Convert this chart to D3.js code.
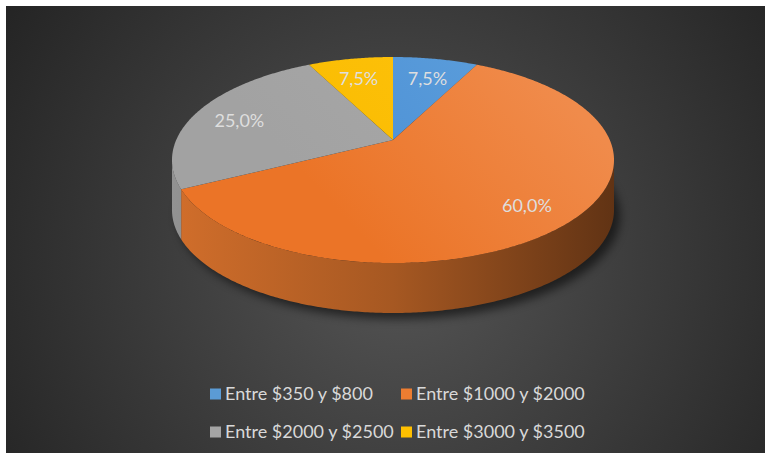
<!DOCTYPE html>
<html>
<head>
<meta charset="utf-8">
<script src="https://cdn.jsdelivr.net/npm/d3@7"></script>
<style>
  body { margin: 0; background: #fff; }
  svg { display: block; }
</style>
</head>
<body>
<svg width="765" height="455"></svg>
<script>
// data
var categories = ["Entre $350 y $800", "Entre $1000 y $2000", "Entre $2000 y $2500", "Entre $3000 y $3500"];
var values = [7.5, 60.0, 25.0, 7.5];
var labels = ["7,5%", "60,0%", "25,0%", "7,5%"];
var colors = ["#5B9BD5", "#ED7D31", "#A5A5A5", "#FFC000"];
var topLight = ["#5c9edb", "#f08b4b", "#a9a9a9", "#ffc30d"];
var topDark = ["#4b8fd5", "#eb7427", "#a2a2a2", "#f9bb00"];

var svg = d3.select("svg");
var W = 765, H = 455;

// pie geometry (tilted disc, slight perspective)
var cx = 393, cy = 160, rx = 221, ry = 103, depth = 50, lift = 20;
var b = ry, c = -lift, k = c / b;
var a = rx * Math.sqrt(b * b - c * c) / b;

// angle (0 = top, clockwise), radius fraction -> screen point
function proj(t, r, dy) {
  var u = r * Math.sin(t), v = -r * Math.cos(t);
  var w = 1 + k * v;
  return [cx + a * u / w, cy + (b * v + c) / w + (dy || 0)];
}
// front part of the rim that is visible
var vis0 = Math.acos(k), vis1 = 2 * Math.PI - Math.acos(k);

var defs = svg.append("defs");

var bg = defs.append("radialGradient").attr("id", "bg")
  .attr("gradientUnits", "userSpaceOnUse")
  .attr("cx", 400).attr("cy", 260).attr("r", 470);
bg.append("stop").attr("offset", "0%").attr("stop-color", "#555555");
bg.append("stop").attr("offset", "100%").attr("stop-color", "#242424");

defs.append("filter").attr("id", "blur")
  .attr("x", "-20%").attr("y", "-20%").attr("width", "140%").attr("height", "140%")
  .append("feGaussianBlur").attr("stdDeviation", 5);

svg.append("rect")
  .attr("x", 6).attr("y", 6)
  .attr("width", W - 6).attr("height", H - 8)
  .attr("fill", "url(#bg)");

var pie = d3.pie().sort(null).value(function(d) { return d; });
var arcs = pie(values);

// gradients for side and top faces
colors.forEach(function(col, i) {
  var sg = defs.append("linearGradient").attr("id", "side" + i)
    .attr("gradientUnits", "userSpaceOnUse")
    .attr("x1", cx - rx).attr("y1", 0).attr("x2", cx + rx).attr("y2", 0);
  var base = d3.color(col);
  sg.append("stop").attr("offset", "0%").attr("stop-color", base.darker(0.35));
  sg.append("stop").attr("offset", "50%").attr("stop-color", base.darker(1.0));
  sg.append("stop").attr("offset", "100%").attr("stop-color", base.darker(2.5));

  var tg = defs.append("linearGradient").attr("id", "top" + i)
    .attr("gradientUnits", "userSpaceOnUse")
    .attr("x1", cx + rx * 0.6).attr("y1", cy - ry)
    .attr("x2", cx - rx * 0.2).attr("y2", cy + ry * 0.6);
  tg.append("stop").attr("offset", "0%").attr("stop-color", topLight[i]);
  tg.append("stop").attr("offset", "100%").attr("stop-color", topDark[i]);
});

var line = d3.line();
function steps(s, e) {
  return d3.range(s, e, 0.01).concat([e]);
}

// shadow under the pie
var rim = steps(0, 2 * Math.PI).map(function(t) { return proj(t, 1, depth + 4); });
svg.append("path")
  .attr("d", line(rim) + "Z")
  .attr("transform", "translate(6,2)")
  .attr("fill", "#000")
  .attr("opacity", 0.55)
  .attr("filter", "url(#blur)");

// side faces
svg.append("g").selectAll("path")
  .data(arcs.filter(function(d) { return d.endAngle > vis0 && d.startAngle < vis1; }))
  .enter().append("path")
  .attr("d", function(d) {
    var s = Math.max(d.startAngle, vis0), e = Math.min(d.endAngle, vis1);
    var up = steps(s, e).map(function(t) { return proj(t, 1, 0); });
    var down = steps(s, e).reverse().map(function(t) { return proj(t, 1, depth); });
    return line(up.concat(down)) + "Z";
  })
  .attr("fill", function(d) { return "url(#side" + d.index + ")"; });

// top faces
svg.append("g").selectAll("path")
  .data(arcs)
  .enter().append("path")
  .attr("d", function(d) {
    var pts = [proj(0, 0, 0)].concat(steps(d.startAngle, d.endAngle).map(function(t) { return proj(t, 1, 0); }));
    return line(pts) + "Z";
  })
  .attr("fill", function(d) { return "url(#top" + d.index + ")"; });

// value labels
svg.append("g").selectAll("text")
  .data(arcs)
  .enter().append("text")
  .attr("x", function(d) { return proj((d.startAngle + d.endAngle) / 2, 0.78, 0)[0]; })
  .attr("y", function(d) { return proj((d.startAngle + d.endAngle) / 2, 0.78, 4)[1]; })
  .attr("dy", "0.35em")
  .attr("text-anchor", "middle")
  .attr("font-family", "Lato, 'Open Sans', sans-serif")
  .attr("font-size", "18px")
  .attr("fill", "#dedede")
  .text(function(d, i) { return labels[i]; });

// legend
var colX = [210, 401], rowY = [394, 432];
var leg = svg.append("g").selectAll("g")
  .data(categories)
  .enter().append("g")
  .attr("transform", function(d, i) {
    return "translate(" + colX[i % 2] + "," + rowY[Math.floor(i / 2)] + ")";
  });
leg.append("rect")
  .attr("x", 0).attr("y", -5.5)
  .attr("width", 11).attr("height", 11)
  .attr("fill", function(d, i) { return colors[i]; });
leg.append("text")
  .attr("x", 15).attr("y", 0)
  .attr("dy", "0.36em")
  .attr("font-family", "Lato, 'Open Sans', sans-serif")
  .attr("font-size", "18px")
  .attr("fill", "#d9d9d9")
  .text(function(d) { return d; });
</script>
</body>
</html>
